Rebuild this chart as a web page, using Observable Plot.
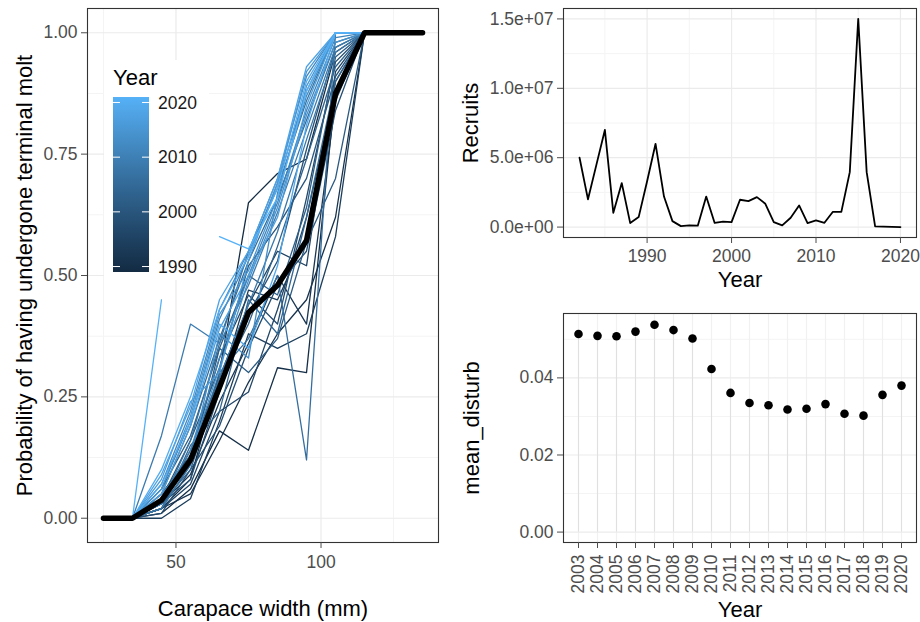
<!DOCTYPE html>
<html><head><meta charset="utf-8">
<script src="https://cdn.jsdelivr.net/npm/d3@7"></script>
<script src="https://cdn.jsdelivr.net/npm/@observablehq/plot@0.6"></script>
<style>
html,body{margin:0;padding:0;background:#fff;}
#wrap{position:relative;width:920px;height:622px;overflow:hidden;background:#fff;font-family:"Liberation Sans",Arial,sans-serif;}
#wrap > svg{position:absolute;}
</style></head><body><div id="wrap"></div>
<script>
// ---------- Data: terminal molt probability by year ----------
const widths = [35, 45, 55, 65, 75, 85, 95, 105, 115];
const molYears = [1989,1990,1991,1992,1993,1994,1995,1996,1997,1998,1999,2000,2001,2002,2003,2004,2005,2006,2007,2008,2009,2010,2011,2012,2013,2014,2015,2016,2017,2018,2019,2020,2021];
const molProb = [
  [0, 0.02, 0.08, 0.30, 0.65, 0.71, 0.74, 0.96, 1],
  [0, 0.01, 0.06, 0.18, 0.14, 0.31, 0.30, 0.88, 1],
  [0, 0.02, 0.05, 0.16, 0.28, 0.38, 0.45, 0.62, 1],
  [0, 0.03, 0.09, 0.24, 0.36, 0.50, 0.40, 0.86, 1],
  [0, 0.04, 0.12, 0.27, 0.47, 0.45, 0.58, 0.90, 1],
  [0, 0.00, 0.04, 0.20, 0.38, 0.35, 0.38, 0.58, 1],
  [0, 0.03, 0.14, 0.29, 0.44, 0.55, 0.52, 0.92, 1],
  [0, 0.02, 0.07, 0.22, 0.26, 0.43, 0.62, 0.88, 1],
  [0, 0.05, 0.13, 0.33, 0.46, 0.40, 0.66, 0.94, 1],
  [0, 0.01, 0.10, 0.19, 0.35, 0.48, 0.55, 0.84, 1],
  [0, 0.03, 0.08, 0.26, 0.42, 0.53, 0.76, 0.97, 1],
  [0, 0.04, 0.16, 0.31, 0.52, 0.60, 0.70, 0.91, 1],
  [0, 0.02, 0.11, 0.35, 0.30, 0.37, 0.57, 0.70, 1],
  [0, 0.06, 0.17, 0.35, 0.50, 0.46, 0.64, 0.95, 1],
  [0, 0.03, 0.10, 0.28, 0.40, 0.56, 0.74, 0.93, 1],
  [0, 0.02, 0.15, 0.22, 0.45, 0.38, 0.62, 0.90, 1],
  [0, 0.05, 0.19, 0.37, 0.53, 0.66, 0.82, 0.98, 1],
  [0, 0.04, 0.12, 0.30, 0.37, 0.50, 0.12, 1.00, 1],
  [0, 0.03, 0.16, 0.36, 0.55, 0.68, 0.86, 1.00, 1],
  [0, 0.02, 0.11, 0.29, 0.44, 0.59, 0.78, 0.96, 1],
  [0, 0.17, 0.40, 0.36, 0.48, 0.63, 0.80, 0.97, 1],
  [0, 0.06, 0.20, 0.41, 0.54, 0.69, 0.88, 1.00, 1],
  [0, 0.04, 0.14, 0.33, 0.50, 0.65, 0.84, 0.99, 1],
  [0, 0.07, 0.22, 0.43, 0.55, 0.70, 0.91, 1.00, 1],
  [0, 0.05, 0.12, 0.38, 0.33, 0.67, 0.87, 1.00, 1],
  [0, 0.03, 0.13, 0.31, 0.49, 0.64, 0.83, 0.98, 1],
  [0, 0.06, 0.21, 0.42, 0.51, 0.66, 0.89, 1.00, 1],
  [0, 0.08, 0.24, 0.30, 0.53, 0.69, 0.92, 1.00, 1],
  [0, 0.05, 0.19, 0.39, 0.50, 0.62, 0.85, 1.00, 1],
  [0, 0.09, 0.23, 0.45, 0.55, 0.70, 0.93, 1.00, 1],
  [0, 0.07, 0.20, 0.40, 0.35, 0.52, 0.81, 1.00, 1],
  [0, 0.10, 0.25, 0.43, 0.54, 0.68, 0.90, 1.00, 1],
  [0, 0.45, null, 0.58, 0.555, 0.66, 0.88, 1.00, 1]
];
const meanWidths = [25, 35, 45, 55, 65, 75, 85, 95, 105, 115, 125, 135];
const meanProb   = [0, 0, 0.037, 0.12, 0.27, 0.424, 0.48, 0.572, 0.875, 1, 1, 1];
const legendTicks = [1990, 2000, 2010, 2020];

// ---------- Data: recruits ----------
const recYears = [1982,1983,1984,1985,1986,1987,1988,1989,1990,1991,1992,1993,1994,1995,1996,1997,1998,1999,2000,2001,2002,2003,2004,2005,2006,2007,2008,2009,2010,2011,2012,2013,2014,2015,2016,2017,2018,2019,2020];
const recruits = [5.0e6,2.0e6,4.5e6,7.0e6,1.03e6,3.17e6,0.29e6,0.72e6,3.3e6,6.0e6,2.2e6,0.43e6,0.07e6,0.12e6,0.1e6,2.2e6,0.3e6,0.4e6,0.36e6,1.97e6,1.87e6,2.16e6,1.68e6,0.36e6,0.12e6,0.67e6,1.56e6,0.29e6,0.48e6,0.31e6,1.1e6,1.1e6,3.96e6,15.0e6,3.96e6,0.05e6,0.03e6,0.01e6,0.0];

// ---------- Data: mean disturbance ----------
const distYears = [2003,2004,2005,2006,2007,2008,2009,2010,2011,2012,2013,2014,2015,2016,2017,2018,2019,2020];
const meanDisturb = [0.0514,0.0509,0.0508,0.0520,0.0538,0.0524,0.0502,0.0423,0.0361,0.0335,0.0329,0.0318,0.0320,0.0332,0.0307,0.0302,0.0356,0.0380];

// ---------- Shared styling ----------
const FONT = '"Liberation Sans", Arial, sans-serif';
const baseStyle = {fontFamily: FONT, fontSize: "17.5px", color: "#4d4d4d", background: "transparent", overflow: "visible"};
const GRID_MAJ = "#ebebeb", GRID_MIN = "#f4f4f4";
const titleMark = (t, opts) => Plot.text([t], {text: d => d, fontSize: 22, fill: "#000", textAnchor: "middle", lineAnchor: "middle", ...opts});
const wrapEl = document.getElementById("wrap");
function place(svg, x0, y0) { svg.style.left = x0 + "px"; svg.style.top = y0 + "px"; wrapEl.appendChild(svg); }

// ---------- Left panel ----------
const lineRows = [];
molYears.forEach((yr, i) => widths.forEach((w, j) => lineRows.push({year: yr, width: w, p: molProb[i][j]})));
const meanRows = meanWidths.map((w, i) => ({width: w, p: meanProb[i]}));

const plotLeft = Plot.plot({
  width: 450, height: 622,
  marginLeft: 87, marginRight: 12, marginTop: 8, marginBottom: 80,
  style: baseStyle,
  x: {domain: [19.5, 140.5]},
  y: {domain: [-0.05, 1.05]},
  color: {type: "linear", domain: [1989, 2021], range: ["#132B43", "#56B1F7"], interpolate: "lab"},
  marks: [
    Plot.ruleX([25, 75, 125], {stroke: GRID_MIN}),
    Plot.ruleY([0.125, 0.375, 0.625, 0.875], {stroke: GRID_MIN}),
    Plot.ruleX([50, 100], {stroke: GRID_MAJ, strokeWidth: 1.2}),
    Plot.ruleY([0, 0.25, 0.5, 0.75, 1], {stroke: GRID_MAJ, strokeWidth: 1.2}),
    Plot.line(lineRows, {x: "width", y: "p", z: "year", stroke: "year", strokeWidth: 1.3}),
    Plot.line(meanRows, {x: "width", y: "p", stroke: "#000", strokeWidth: 5.5, strokeLinejoin: "round"}),
    Plot.frame({stroke: "#333", strokeWidth: 1.1}),
    Plot.axisX({ticks: [50, 100], tickSize: 6, tickPadding: 7, label: null}),
    Plot.axisY({ticks: [0, 0.25, 0.5, 0.75, 1], tickFormat: d3.format(".2f"), tickSize: 6, tickPadding: 4, label: null}),
    titleMark("Carapace width (mm)", {frameAnchor: "bottom", dy: 66}),
    titleMark("Probability of having undergone terminal molt", {frameAnchor: "left", rotate: -90, dx: -63})
  ]
});
place(plotLeft, 0, 0);

// Legend (colorbar) drawn with the plot's own color scale
const cs = plotLeft.scale("color");
const ly = d3.scaleLinear([1989, 2021], [272, 97]);
const leg = d3.create("svg").attr("width", 450).attr("height", 300);
const grad = leg.append("defs").append("linearGradient").attr("id", "yrgrad").attr("x1", 0).attr("y1", 1).attr("x2", 0).attr("y2", 0);
d3.range(0, 1.0001, 0.05).forEach(t => grad.append("stop").attr("offset", t).attr("stop-color", cs.apply(1989 + t * 32)));
leg.append("rect").attr("x", 104).attr("y", 60).attr("width", 105).attr("height", 220).attr("fill", "#fff");
leg.append("text").attr("x", 113).attr("y", 77).attr("dy", "0.35em").attr("font-family", FONT).attr("font-size", 22).attr("fill", "#000").text("Year");
leg.append("rect").attr("x", 113).attr("y", 97).attr("width", 36).attr("height", 175).attr("fill", "url(#yrgrad)");
legendTicks.forEach(v => {
  const y = ly(v);
  leg.append("line").attr("x1", 113).attr("x2", 120).attr("y1", y).attr("y2", y).attr("stroke", "#fff").attr("stroke-width", 1);
  leg.append("line").attr("x1", 142).attr("x2", 149).attr("y1", y).attr("y2", y).attr("stroke", "#fff").attr("stroke-width", 1);
  leg.append("text").attr("x", 158).attr("y", y).attr("dy", "0.35em").attr("font-family", FONT).attr("font-size", 17.5).attr("fill", "#1a1a1a").text(v);
});
place(leg.node(), 0, 0);

// ---------- Top-right: Recruits ----------
const sciFmt = d => {
  const [m, e] = d.toExponential(1).split("e");
  return m + "e" + e[0] + e.slice(1).padStart(2, "0");
};
const recRows = recYears.map((y, i) => ({year: y, value: recruits[i]}));
const plotTop = Plot.plot({
  width: 470, height: 300,
  marginLeft: 113, marginRight: 4, marginTop: 8, marginBottom: 63,
  style: baseStyle,
  x: {domain: [1980.1, 2021.9]},
  y: {domain: [-7.5e5, 1.575e7]},
  marks: [
    Plot.ruleX([1985, 1995, 2005, 2015], {stroke: GRID_MIN}),
    Plot.ruleY([2.5e6, 7.5e6, 1.25e7], {stroke: GRID_MIN}),
    Plot.ruleX([1990, 2000, 2010, 2020], {stroke: GRID_MAJ, strokeWidth: 1.2}),
    Plot.ruleY([0, 5e6, 1e7, 1.5e7], {stroke: GRID_MAJ, strokeWidth: 1.2}),
    Plot.line(recRows, {x: "year", y: "value", stroke: "#000", strokeWidth: 1.8}),
    Plot.frame({stroke: "#333", strokeWidth: 1.1}),
    Plot.axisX({ticks: [1990, 2000, 2010, 2020], tickFormat: d => String(d), tickSize: 6, tickPadding: 6, label: null}),
    Plot.axisY({ticks: [0, 5e6, 1e7, 1.5e7], tickFormat: sciFmt, tickSize: 6, tickPadding: 4, label: null}),
    titleMark("Year", {frameAnchor: "bottom", dy: 42}),
    titleMark("Recruits", {frameAnchor: "left", rotate: -90, dx: -93})
  ]
});
place(plotTop, 450, 0);

// ---------- Bottom-right: mean_disturb ----------
const distRows = distYears.map((y, i) => ({year: y, value: meanDisturb[i]}));
const plotBottom = Plot.plot({
  width: 470, height: 322,
  marginLeft: 113, marginRight: 4, marginTop: 13, marginBottom: 80,
  style: baseStyle,
  x: {type: "point", domain: distYears, padding: 0.6},
  y: {domain: [-0.0027, 0.0567]},
  marks: [
    Plot.ruleY([0.01, 0.03, 0.05], {stroke: GRID_MIN}),
    Plot.ruleX(distYears, {x: d => d, stroke: "#f1f1f1", strokeWidth: 1.2}),
    Plot.ruleY([0, 0.02, 0.04], {stroke: GRID_MAJ, strokeWidth: 1.2}),
    Plot.ruleX(distRows, {x: "year", y1: 0, y2: "value", stroke: "#e0e0e0", strokeWidth: 1.1}),
    Plot.dot(distRows, {x: "year", y: "value", r: 4.3, fill: "#000", stroke: "none"}),
    Plot.frame({stroke: "#333", strokeWidth: 1.1}),
    Plot.axisX({tickRotate: -90, tickFormat: d => String(d), tickSize: 6, tickPadding: 6, label: null}),
    Plot.axisY({ticks: [0, 0.02, 0.04], tickFormat: d3.format(".2f"), tickSize: 6, tickPadding: 4, label: null}),
    titleMark("Year", {frameAnchor: "bottom", dy: 67}),
    titleMark("mean_disturb", {frameAnchor: "left", rotate: -90, dx: -92})
  ]
});
place(plotBottom, 450, 300);
</script></body></html>
